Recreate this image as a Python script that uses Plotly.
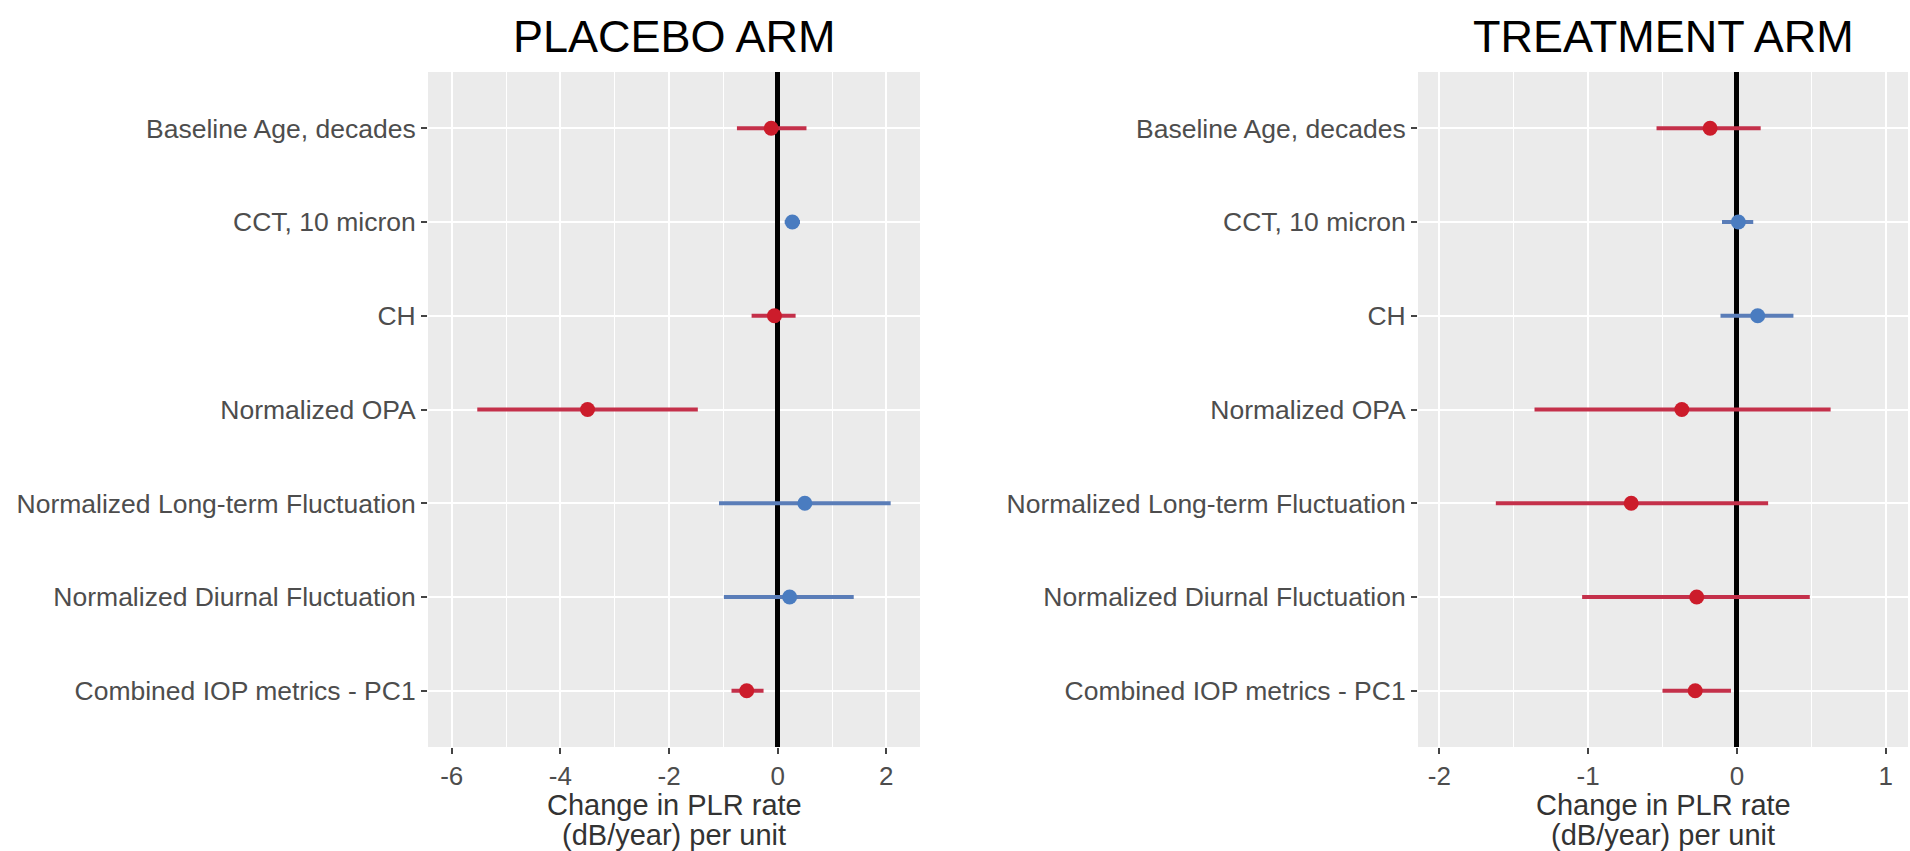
import plotly.graph_objects as go

# Predictors, listed top to bottom
predictors = [
    "Baseline Age, decades",
    "CCT, 10 micron",
    "CH",
    "Normalized OPA",
    "Normalized Long-term Fluctuation",
    "Normalized Diurnal Fluctuation",
    "Combined IOP metrics - PC1",
]

# Placebo arm: estimate and 95% CI (dB/year per unit)
placebo_est = [-0.12, 0.27, -0.06, -3.50, 0.50, 0.22, -0.57]
placebo_lo = [-0.75, 0.13, -0.48, -5.53, -1.08, -0.99, -0.85]
placebo_hi = [0.53, 0.41, 0.33, -1.47, 2.08, 1.40, -0.26]

# Treatment arm: estimate and 95% CI (dB/year per unit)
treatment_est = [-0.18, 0.01, 0.14, -0.37, -0.71, -0.27, -0.28]
treatment_lo = [-0.54, -0.10, -0.11, -1.36, -1.62, -1.04, -0.50]
treatment_hi = [0.16, 0.11, 0.38, 0.63, 0.21, 0.49, -0.04]

placebo_ticks = [-6, -4, -2, 0, 2]
treatment_ticks = [-2, -1, 0, 1]

W, H = 1910, 851
FONT = "Liberation Sans, Arial, Helvetica, sans-serif"
RED_PT, RED_LN = "#CC1C2B", "#C4304A"
BLUE_PT, BLUE_LN = "#4A7CC0", "#5A7DB8"

fig = go.Figure()


def add_arm(est, lo, hi, xref):
    rows = list(range(len(predictors)))
    groups = [
        ([i for i in rows if est[i] < 0], RED_PT, RED_LN),
        ([i for i in rows if est[i] >= 0], BLUE_PT, BLUE_LN),
    ]
    for idx, pt_col, ln_col in groups:
        if not idx:
            continue
        fig.add_trace(go.Scatter(
            x=[est[i] for i in idx],
            y=[i for i in idx],
            mode="markers",
            marker=dict(size=15, color=pt_col, line=dict(width=0)),
            error_x=dict(
                type="data", symmetric=False,
                array=[hi[i] - est[i] for i in idx],
                arrayminus=[est[i] - lo[i] for i in idx],
                color=ln_col, thickness=4, width=0,
            ),
            xaxis=xref, yaxis="y" if xref == "x" else "y2",
            showlegend=False, hoverinfo="x+y",
        ))


add_arm(placebo_est, placebo_lo, placebo_hi, "x")
add_arm(treatment_est, treatment_lo, treatment_hi, "x2")

px = lambda v: v / W
py = lambda v: 1 - v / H

x_common = dict(
    showgrid=True, gridcolor="white", gridwidth=2.4,
    zeroline=True, zerolinecolor="black", zerolinewidth=4.5,
    ticks="outside", ticklen=6, tickwidth=1.6, tickcolor="#444444",
    tickfont=dict(family=FONT, size=26, color="#4D4D4D"),
    showline=False,
)
y_common = dict(
    tickvals=list(range(len(predictors))), ticktext=predictors,
    range=[len(predictors) - 0.4, -0.6],
    domain=[py(747), py(72)],
    showgrid=True, gridcolor="white", gridwidth=2.4, zeroline=False,
    ticks="outside", ticklen=6, tickwidth=1.6, tickcolor="#444444",
    tickfont=dict(family=FONT, size=26.5, color="#4D4D4D"),
    showline=False,
)

fig.update_layout(
    width=W, height=H,
    margin=dict(l=0, r=0, t=0, b=0),
    paper_bgcolor="white", plot_bgcolor="#EBEBEB",
    xaxis=dict(x_common, domain=[px(428), px(920)], range=[-6.437, 2.62],
               tickvals=placebo_ticks, ticktext=[str(t) for t in placebo_ticks], anchor="y",
               minor=dict(dtick=1, tick0=0, showgrid=True, gridcolor="white", gridwidth=1.2)),
    xaxis2=dict(x_common, domain=[px(1418), px(1908)], range=[-2.143, 1.15],
                tickvals=treatment_ticks, ticktext=[str(t) for t in treatment_ticks], anchor="y2",
                minor=dict(dtick=0.5, tick0=0, showgrid=True, gridcolor="white", gridwidth=1.2)),
    yaxis=dict(y_common, anchor="x"),
    yaxis2=dict(y_common, anchor="x2"),
)

# The plot background only covers one subplot; shade the second panel too
fig.add_shape(type="rect", xref="x2 domain", yref="y2 domain", x0=0, x1=1, y0=0, y1=1,
              fillcolor="#EBEBEB", line=dict(width=0), layer="below")

annotations = []
for title, (a, b) in [("PLACEBO ARM", (428, 920)), ("TREATMENT ARM", (1418, 1908))]:
    cx = px((a + b) / 2)
    annotations.append(dict(text=title, x=cx, y=py(36), xref="paper", yref="paper",
                            xanchor="center", yanchor="middle", showarrow=False,
                            font=dict(family=FONT, size=45, color="black")))
    annotations.append(dict(text="Change in PLR rate", x=cx, y=py(805), xref="paper", yref="paper",
                            xanchor="center", yanchor="middle", showarrow=False,
                            font=dict(family=FONT, size=29, color="#333333")))
    annotations.append(dict(text="(dB/year) per unit", x=cx, y=py(835), xref="paper", yref="paper",
                            xanchor="center", yanchor="middle", showarrow=False,
                            font=dict(family=FONT, size=29, color="#333333")))
fig.update_layout(annotations=annotations)

fig.write_html("out.html")
